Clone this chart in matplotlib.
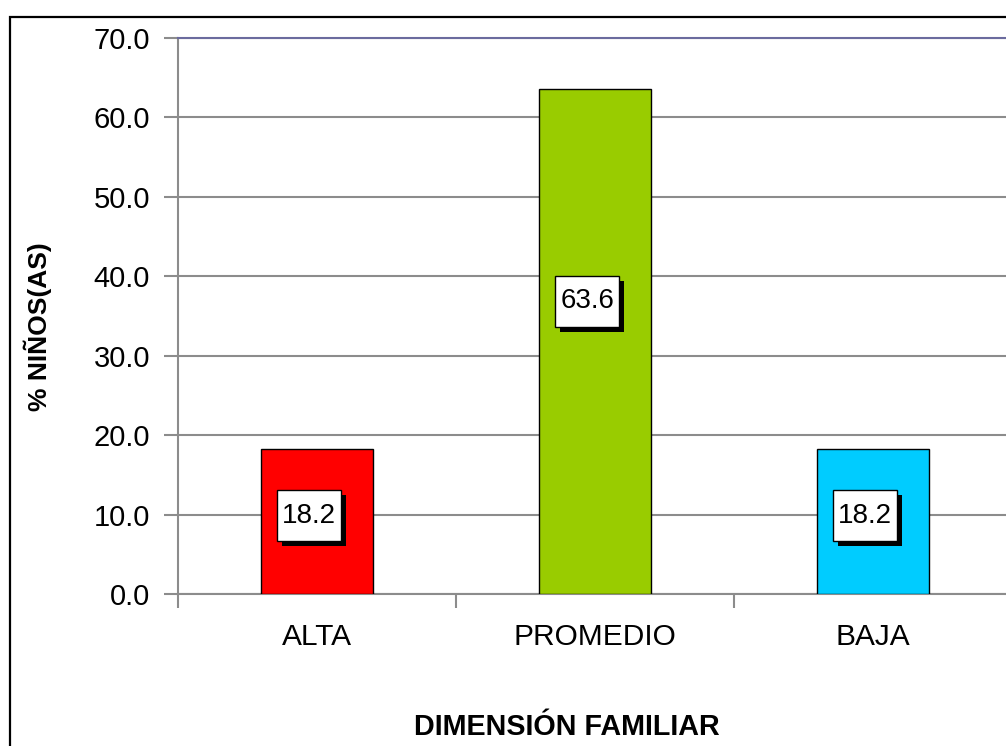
import matplotlib
matplotlib.use("Agg")
import matplotlib.pyplot as plt
from matplotlib.patches import Rectangle
from matplotlib.path import Path
from matplotlib.transforms import IdentityTransform

categories = ["ALTA", "PROMEDIO", "BAJA"]
values = [18.2, 63.6, 18.2]
colors = ["#FF0000", "#99CC00", "#00CCFF"]
yticks = [0, 10, 20, 30, 40, 50, 60, 70]

plt.rcParams['font.family'] = ['Liberation Sans', 'DejaVu Sans']

W, H = 1006, 746
fig = plt.figure(figsize=(W / 100, H / 100), dpi=100)
fig.patch.set_facecolor("white")

# outer chart border (extends past right/bottom edges)
fig.patches.append(Rectangle((9.5 / W, -0.1), 1.2, 1 - 16.5 / H + 0.1,
                             transform=fig.transFigure, fill=False,
                             edgecolor="black", linewidth=1.6, zorder=0))

ax = fig.add_axes([178 / W, 1 - 594 / H, (1012 - 178) / W, (594 - 38) / H])
x = list(range(len(categories)))
ax.bar(x, values, width=0.4, color=colors, edgecolor="black", linewidth=1.0, zorder=3)

ax.set_xlim(-0.5, 2.5)
ax.set_ylim(0, 70)
ax.set_yticks(yticks)
ax.set_yticklabels([f"{v:.1f}" for v in yticks], fontsize=21)
ax.yaxis.grid(True, color="#8C8C8C", linewidth=1.5, zorder=0)
ax.set_axisbelow(True)

ax.set_xticks(x)
ax.set_xticklabels(categories, fontsize=21.5)
ax.tick_params(axis="x", which="major", length=0, pad=21)
ax.set_xticks([-0.5, 0.5, 1.5], minor=True)
ax.tick_params(axis="x", which="minor", length=10, width=1.5, color="#8C8C8C", direction="out")
ax.tick_params(axis="y", length=10, width=1.5, color="#8C8C8C", direction="out", pad=10)

for s in ["left", "bottom"]:
    ax.spines[s].set_color("#8C8C8C")
    ax.spines[s].set_linewidth(1.5)
ax.spines["right"].set_visible(False)
ax.spines["top"].set_color("#6B6B9E")
ax.spines["top"].set_linewidth(1.5)


def label_box(x0, y0, width, height, mutation_size):
    px = 5.0
    cy = y0 + height / 2
    hh = 25.5
    x0, x1 = x0 - px, x0 + width + px
    y0, y1 = cy - hh, cy + hh
    return Path([(x0, y0), (x1, y0), (x1, y1), (x0, y1), (x0, y0)], closed=True)


# data labels with drop shadow
label_frac = [0.54, 0.58, 0.54]
anns = []
for xi, v, f in zip(x, values, label_frac):
    ypos = v * f
    a = ax.annotate(f"{v:.1f}", (xi, ypos), xytext=(-5.5, 0), textcoords="offset points",
                    ha="center", va="center", fontsize=20, color="black",
                    bbox=dict(boxstyle=label_box, facecolor="white", edgecolor="black", linewidth=1.0),
                    zorder=6)
    anns.append(a)

fig.canvas.draw()
for a in anns:
    bb = a.get_bbox_patch().get_window_extent()
    shadow = Rectangle((bb.x0 + 5, bb.y0 - 5), bb.width, bb.height,
                       transform=IdentityTransform(), facecolor="black", edgecolor="none",
                       zorder=5, clip_on=False)
    ax.add_artist(shadow)

fig.text(38 / W, 1 - 327 / H, "% NIÑOS(AS)", rotation=90, ha="center", va="center",
         fontsize=19, fontweight="bold")
fig.text(567 / W, 1 - 727 / H, "DIMENSIÓN FAMILIAR", ha="center", va="center",
         fontsize=20.7, fontweight="bold")

fig.savefig("out.png", dpi=100)
